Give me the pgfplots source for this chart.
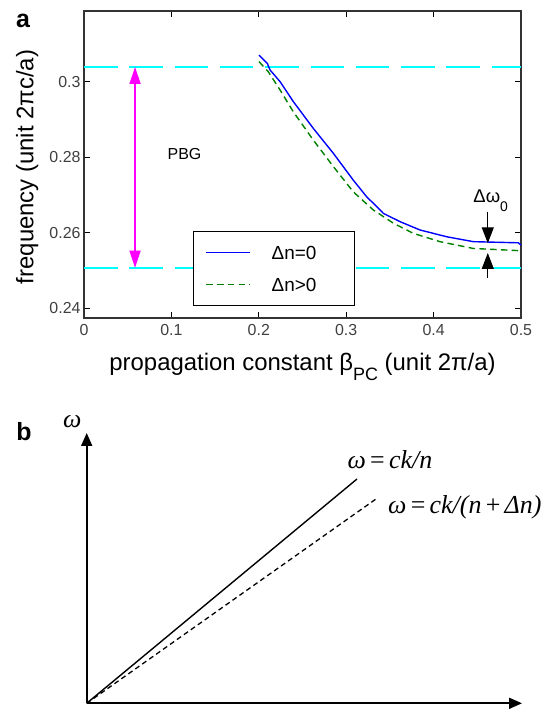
\documentclass[border=0pt]{standalone}
\usepackage{fontspec}
\setmainfont{Liberation Sans}
\newfontfamily\tms{Liberation Serif}
\usepackage{pgfplots}
\pgfplotsset{compat=1.18}
\usetikzlibrary{arrows.meta}
\definecolor{cy}{RGB}{0,255,255}
\definecolor{mg}{RGB}{255,0,255}
\definecolor{dg}{RGB}{0,128,0}

\begin{document}
\begin{tikzpicture}
\path[use as bounding box] (0,0) rectangle (553bp,709bp);
\node[font=\fontsize{25}{25}\selectfont\bfseries] at (23bp,688.5bp) {a};
\node[font=\fontsize{25}{25}\selectfont\bfseries] at (24bp,277.5bp) {b};

% panel a
\begin{axis}[
  at={(84bp,391bp)}, anchor=south west,
  scale only axis, width=437bp, height=307bp,
  xmin=0, xmax=0.5, ymin=0.23748, ymax=0.31881,
  xtick={0,0.1,0.2,0.3,0.4,0.5},
  ytick={0.24,0.26,0.28,0.3},
  /pgf/number format/assume math mode=true,
  tick label style={font=\fontsize{16}{16}\selectfont, color=black!75},
  xticklabel style={yshift=-3bp},
  tick align=inside, major tick length=6bp,
  tick style={black, line width=1bp},
  axis line style={line width=1.3bp, black!80},
  xlabel={propagation constant β\raisebox{-10bp}{\fontsize{18}{18}\selectfont PC} (unit 2π/a)},
  ylabel={frequency (unit 2πc/a)},
  xlabel style={font=\fontsize{24}{24}\selectfont, at={(rel axis cs:0.5,-0.1726)}, anchor=base},
  ylabel style={font=\fontsize{24}{24}\selectfont, at={(rel axis cs:-0.1156,0.492)}, anchor=base},
  legend style={at={(0.2487,0.0391)}, anchor=south west, draw=black, line width=1.2bp,
    inner xsep=12.3bp, inner ysep=14.3bp, row sep=18bp,
    font=\fontsize{19}{19}\selectfont,
    nodes={inner sep=0bp, text height=13.6bp, text depth=0bp},
    /tikz/every odd column/.append style={column sep=20.7bp}},
  legend cell align=left,
  legend image code/.code={\draw[#1] (0bp,0bp) -- (44bp,0bp);},
  clip=false,
]
\addplot[cy, line width=1.7bp, dash pattern=on 33.5bp off 11.8bp, forget plot]
  coordinates {(0,0.304) (0.5,0.304)};
\addplot[cy, line width=1.7bp, dash pattern=on 33.5bp off 11.8bp, forget plot]
  coordinates {(0,0.2508) (0.5,0.2508)};

% dn = 0
\addplot[blue, line width=1.4bp] coordinates {
  (0.2002,0.3071) (0.2098,0.3049) (0.2128,0.3032) (0.2243,0.3001)
  (0.2395,0.2948) (0.2624,0.2877) (0.2853,0.2811) (0.3081,0.2740)
  (0.3234,0.2696) (0.3349,0.2670) (0.3425,0.2652) (0.3616,0.2630)
  (0.3844,0.2608) (0.4150,0.2590) (0.4455,0.2577) (0.4969,0.2574)
  (0.5,0.2568)
};
% dn > 0
\addplot[dg, line width=1.4bp, dash pattern=on 6.5bp off 4.3bp] coordinates {
  (0.2002,0.3054) (0.2109,0.3027) (0.2243,0.2979) (0.2395,0.2921)
  (0.2624,0.2846) (0.2853,0.2776) (0.3081,0.2709) (0.3310,0.2661)
  (0.3539,0.2626) (0.3768,0.2599) (0.4073,0.2577) (0.4455,0.2559)
  (0.5,0.2553)
};
\legend{Δn=0\hspace*{26bp}, Δn>0\hspace*{26bp}}

% PBG arrow
\addplot[mg, line width=1.5bp, arrows={Triangle[length=17bp,width=11bp]-Triangle[length=17bp,width=11bp]}, forget plot]
  coordinates {(0.0584,0.2508) (0.0584,0.304)};
\node[anchor=base west, inner sep=0pt, font=\fontsize{16}{16}\selectfont]
  at (axis cs:0.0955,0.27952) {PBG};

% delta omega_0 arrows
\addplot[black, line width=1.2bp, arrows={-Triangle[length=16bp,width=12bp]}, forget plot]
  coordinates {(0.462,0.26564) (0.462,0.25727)};
\addplot[black, line width=1.2bp, arrows={-Triangle[length=16bp,width=12bp]}, forget plot]
  coordinates {(0.462,0.24808) (0.462,0.2547)};
\node[anchor=base west, inner sep=0pt, font=\fontsize{18.5}{18.5}\selectfont]
  at (axis cs:0.4454,0.2680) {Δω\raisebox{-8.5bp}{\fontsize{14}{14}\selectfont 0}};
\end{axis}

% panel b
\begin{axis}[
  at={(86.7bp,5.7bp)}, anchor=south west,
  scale only axis, width=435.3bp, height=270.3bp,
  xmin=0, xmax=435.3, ymin=0, ymax=270.3,
  axis x line=bottom, axis y line=left,
  xtick=\empty, ytick=\empty,
  axis line style={line width=1.8bp, -{Triangle[length=13bp,width=11bp]}},
  clip=false,
]
\addplot[black, line width=1.4bp] coordinates {(0,0) (270.3,224.3)};
\addplot[black, line width=1.3bp, dash pattern=on 5bp off 3.5bp] coordinates {(0,0) (290.7,205.3)};
\node[anchor=base west, inner sep=0pt, font=\fontsize{26}{26}\selectfont\tms\itshape]
  at (axis cs:-23.7,275.3) {ω};
\node[anchor=base west, inner sep=0pt, font=\fontsize{26}{26}\selectfont\tms\itshape]
  at (axis cs:260.7,234.3) {ω\,{\upshape=}\,ck/n};
\node[anchor=base west, inner sep=0pt, font=\fontsize{26}{26}\selectfont\tms\itshape]
  at (axis cs:301.3,189.3) {ω\,{\upshape=}\,ck/(n\,{\upshape+}\,Δn)};
\end{axis}
\end{tikzpicture}
\end{document}
